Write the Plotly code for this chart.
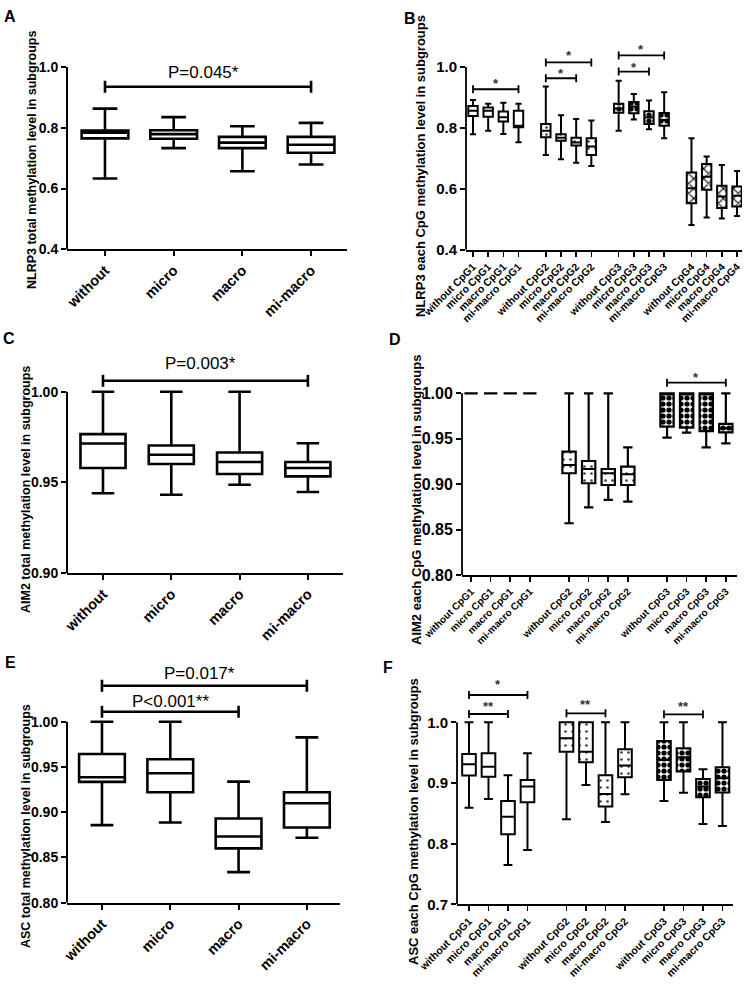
import plotly.graph_objects as go

W, H = 748, 985
FONT = "Liberation Sans, Arial, Helvetica, sans-serif"

# ---------------- data ----------------
groups = ["without", "micro", "macro", "mi-macro"]
total_labels = ["without", "micro", "macro", "mi-macro"]
cpg4_labels = [f"{g} CpG{k}" for k in range(1, 5) for g in groups]
cpg3_labels = [f"{g} CpG{k}" for k in range(1, 4) for g in groups]

# A: NLRP3 total
a_low = [0.633, 0.733, 0.657, 0.679]
a_q1 = [0.765, 0.764, 0.733, 0.718]
a_med = [0.784, 0.779, 0.751, 0.744]
a_q3 = [0.791, 0.792, 0.770, 0.770]
a_high = [0.863, 0.835, 0.805, 0.816]

# B: NLRP3 each CpG
b_low = [0.779, 0.791, 0.780, 0.753, 0.711, 0.697, 0.686, 0.675,
         0.791, 0.828, 0.796, 0.766, 0.481, 0.506, 0.503, 0.511]
b_q1 = [0.839, 0.837, 0.821, 0.802, 0.769, 0.758, 0.742, 0.711,
        0.850, 0.848, 0.813, 0.807, 0.553, 0.597, 0.537, 0.542]
b_med = [0.856, 0.856, 0.835, 0.807, 0.791, 0.768, 0.752, 0.739,
         0.864, 0.870, 0.834, 0.826, 0.602, 0.640, 0.575, 0.577]
b_q3 = [0.872, 0.867, 0.854, 0.856, 0.813, 0.779, 0.768, 0.766,
        0.879, 0.885, 0.855, 0.849, 0.654, 0.682, 0.610, 0.608]
b_high = [0.892, 0.879, 0.883, 0.879, 0.936, 0.842, 0.829, 0.824,
          0.955, 0.911, 0.890, 0.917, 0.766, 0.706, 0.678, 0.659]

# C: AIM2 total
c_low = [0.9440, 0.9432, 0.9487, 0.9447]
c_q1 = [0.9579, 0.9601, 0.9546, 0.9533]
c_med = [0.9714, 0.9652, 0.9612, 0.9579]
c_q3 = [0.9766, 0.9703, 0.9665, 0.9612]
c_high = [1.0, 1.0, 1.0, 0.9716]

# D: AIM2 each CpG
d_low = [1.0, 1.0, 1.0, 1.0, 0.8570, 0.8745, 0.8826, 0.8808,
         0.9512, 0.9567, 0.9406, 0.9450]
d_q1 = [1.0, 1.0, 1.0, 1.0, 0.9120, 0.9010, 0.8991, 0.8991,
        0.9633, 0.9622, 0.9585, 0.9571]
d_med = [1.0, 1.0, 1.0, 1.0, 0.9211, 0.9167, 0.9120, 0.9109,
         1.0, 1.0, 1.0, 0.9615]
d_q3 = [1.0, 1.0, 1.0, 1.0, 0.9358, 0.9255, 0.9167, 0.9193,
        1.0, 1.0, 1.0, 0.9663]
d_high = [1.0, 1.0, 1.0, 1.0, 1.0, 1.0, 1.0, 0.9406,
          1.0, 1.0, 1.0, 1.0]

# E: ASC total
e_low = [0.8857, 0.8886, 0.8338, 0.8717]
e_q1 = [0.9335, 0.9221, 0.8600, 0.8831]
e_med = [0.9386, 0.9430, 0.8732, 0.9099]
e_q3 = [0.9643, 0.9585, 0.8930, 0.9220]
e_high = [1.0, 1.0, 0.9338, 0.9827]

# F: ASC each CpG
f_low = [0.8593, 0.8736, 0.7648, 0.7896, 0.8401, 0.8967, 0.8357, 0.8813,
         0.8703, 0.8840, 0.8324, 0.8291]
f_q1 = [0.9121, 0.9104, 0.8154, 0.8681, 0.9516, 0.9340, 0.8610, 0.9093,
        0.9049, 0.9187, 0.8764, 0.8841]
f_med = [0.9308, 0.9269, 0.8445, 0.8940, 0.9736, 0.9516, 0.8819, 0.9286,
         0.9379, 0.9423, 0.8940, 0.9077]
f_q3 = [0.9478, 0.9489, 0.8703, 0.9050, 1.0, 1.0, 0.9126, 0.9555,
        0.9692, 0.9571, 0.9066, 0.9258]
f_high = [1.0, 1.0, 0.9126, 0.9489, 1.0, 1.0, 1.0, 1.0,
          1.0, 1.0, 0.9225, 1.0]

# significance brackets: (from index, to index, bracket y, label, label y)
a_sig = [(0, 3, 0.935, "P=0.045*", 0.983)]
b_sig = [(0, 3, 0.927, "*", 0.955), (4, 7, 1.015, "*", 1.047), (4, 6, 0.963, "*", 0.988),
         (8, 11, 1.038, "*", 1.067), (8, 10, 0.985, "*", 1.009)]
c_sig = [(0, 3, 1.006, "P=0.003*", 1.0156)]
d_sig = [(8, 11, 1.0117, "*", 1.021)]
e_sig = [(0, 3, 1.0397, "P=0.017*", 1.0533), (0, 2, 1.011, "P<0.001**", 1.022)]
f_sig = [(0, 3, 1.045, "*", 1.067), (0, 2, 1.0137, "**", 1.031),
         (4, 6, 1.0148, "**", 1.034), (8, 10, 1.0132, "**", 1.031)]

# ---------------- styling ----------------
DOTS = dict(shape=".", fgcolor="#444444", bgcolor="white", size=7, solidity=0.12)
CHECK = dict(shape=".", fgcolor="#000000", bgcolor="white", size=6, solidity=0.6)
CROSS = dict(shape="x", fgcolor="#000000", bgcolor="white", size=7, solidity=0.3)


def positions(n, gap):
    return [(i % 4) + (i // 4) * (3 + gap) for i in range(n)]


panels = [
    dict(letter="A", letter_xy=(10, 17), title="NLRP3 total methylation level in subgroups", title_xy=(32, 160),
         xpx=(67, 347), ypx=(67, 249.3), xr=(-0.553, 3.523), yr=(0.4, 1.0),
         yt=[0.4, 0.6, 0.8, 1.0], ytt=["0.4", "0.6", "0.8", "1.0"],
         labels=total_labels, pos=positions(4, 1), low=a_low, q1=a_q1, med=a_med, q3=a_q3, high=a_high,
         pats=[None], sig=a_sig, bw=0.68, ww=0.53, lw=2.6, xfs=14.5, yfs=14, sigfs=17, big=True),
    dict(letter="B", letter_xy=(410, 18), title="NLRP3 each CpG methylation level in subgroups", title_xy=(420, 166),
         xpx=(466, 742), ypx=(40, 249.8), xr=(-0.461, 17.73), yr=(0.4, 1.0886),
         yt=[0.4, 0.6, 0.8, 1.0], ytt=["0.4", "0.6", "0.8", "1.0"],
         labels=cpg4_labels, pos=positions(16, 1.8), low=b_low, q1=b_q1, med=b_med, q3=b_q3, high=b_high,
         pats=[None, DOTS, CHECK, CROSS], sig=b_sig, bw=0.62, ww=0.65, lw=2, xfs=10.5, yfs=15, sigfs=13, big=False),
    dict(letter="C", letter_xy=(9, 338), title="AIM2 total methylation level in subgroups", title_xy=(26, 490),
         xpx=(67, 343), ypx=(350, 573), xr=(-0.527, 3.514), yr=(0.9, 1.023),
         yt=[0.90, 0.95, 1.00], ytt=["0.90", "0.95", "1.00"],
         labels=total_labels, pos=positions(4, 1), low=c_low, q1=c_q1, med=c_med, q3=c_q3, high=c_high,
         pats=[None], sig=c_sig, bw=0.66, ww=0.5, lw=2.6, xfs=14.5, yfs=14, sigfs=17, big=True),
    dict(letter="D", letter_xy=(395, 340), title="AIM2 each CpG methylation level in subgroups", title_xy=(417, 500),
         xpx=(462, 737), ypx=(365, 575), xr=(-0.463, 13.57), yr=(0.8, 1.0312),
         yt=[0.80, 0.85, 0.90, 0.95, 1.00], ytt=["0.80", "0.85", "0.90", "0.95", "1.00"],
         labels=cpg3_labels, pos=positions(12, 2), low=d_low, q1=d_q1, med=d_med, q3=d_q3, high=d_high,
         pats=[None, DOTS, CHECK], sig=d_sig, bw=0.68, ww=0.7, lw=2.2, xfs=10, yfs=16, sigfs=13, big=False),
    dict(letter="E", letter_xy=(10, 662), title="ASC total methylation level in subgroups", title_xy=(26, 826),
         xpx=(67, 340), ypx=(665, 902.7), xr=(-0.512, 3.485), yr=(0.8, 1.0627),
         yt=[0.80, 0.85, 0.90, 0.95, 1.00], ytt=["0.80", "0.85", "0.90", "0.95", "1.00"],
         labels=total_labels, pos=positions(4, 1), low=e_low, q1=e_q1, med=e_med, q3=e_q3, high=e_high,
         pats=[None], sig=e_sig, bw=0.67, ww=0.5, lw=2.6, xfs=14.5, yfs=14, sigfs=17, big=True),
    dict(letter="F", letter_xy=(388, 667), title="ASC each CpG methylation level in subgroups", title_xy=(413, 822),
         xpx=(457, 733), ypx=(672, 904.3), xr=(-0.615, 13.54), yr=(0.7, 1.0829),
         yt=[0.7, 0.8, 0.9, 1.0], ytt=["0.7", "0.8", "0.9", "1.0"],
         labels=cpg3_labels, pos=positions(12, 2), low=f_low, q1=f_q1, med=f_med, q3=f_q3, high=f_high,
         pats=[None, DOTS, CHECK], sig=f_sig, bw=0.7, ww=0.65, lw=2, xfs=10.5, yfs=15, sigfs=13, big=False),
]

fig = go.Figure()
layout = dict(width=W, height=H, margin=dict(l=0, r=0, t=0, b=0, autoexpand=False), autosize=False,
              paper_bgcolor="white", plot_bgcolor="white", showlegend=False, barmode="overlay",
              template="none")
shapes = []
annotations = []

for k, p in enumerate(panels):
    sfx = "" if k == 0 else str(k + 1)
    xa, ya = "x" + sfx, "y" + sfx
    pos = p["pos"]
    n = len(pos)

    for g, pat in enumerate(p["pats"]):
        if pat is None:
            continue
        idx = [i for i in range(n) if i // 4 == g]
        fig.add_trace(go.Bar(
            x=[pos[i] for i in idx], base=[p["q1"][i] for i in idx],
            y=[p["q3"][i] - p["q1"][i] for i in idx], width=p["bw"],
            marker=dict(color="white", line=dict(width=0), pattern=pat),
            xaxis=xa, yaxis=ya, hoverinfo="skip", showlegend=False))

    fig.add_trace(go.Box(
        x=pos, q1=p["q1"], median=p["med"], q3=p["q3"],
        lowerfence=p["low"], upperfence=p["high"], orientation="v",
        width=p["bw"], whiskerwidth=p["ww"], fillcolor="rgba(0,0,0,0)",
        line=dict(color="black", width=p["lw"]), boxpoints=False,
        xaxis=xa, yaxis=ya, showlegend=False))

    x0, x1 = p["xpx"]
    yt_px, yb_px = p["ypx"]
    scale = (yb_px - yt_px) / (p["yr"][1] - p["yr"][0])
    tickfont = dict(family=FONT, size=p["xfs"], color="black", weight="bold")
    layout["xaxis" + sfx] = dict(
        domain=[x0 / W, x1 / W], range=list(p["xr"]), anchor=ya, automargin=False,
        tickmode="array", tickvals=pos, ticktext=p["labels"], tickangle=-45,
        ticks="outside", ticklen=5, tickwidth=2 if p["big"] else 1.6, tickcolor="black",
        showline=True, linecolor="black", linewidth=2 if p["big"] else 1.8,
        showgrid=False, zeroline=False, tickfont=tickfont)
    layout["yaxis" + sfx] = dict(
        domain=[1 - yb_px / H, 1 - yt_px / H], range=list(p["yr"]), anchor=xa, automargin=False,
        tickmode="array", tickvals=p["yt"], ticktext=p["ytt"],
        ticks="outside", ticklen=5, tickwidth=2, tickcolor="black",
        showline=False, showgrid=False, zeroline=False,
        tickfont=dict(family=FONT, size=p["yfs"], color="black", weight="bold"))

    # y axis line (ends at top tick)
    shapes.append(dict(type="line", xref=xa + " domain", yref=ya, x0=0, x1=0,
                       y0=p["yr"][0], y1=p["yt"][-1],
                       line=dict(color="black", width=2 if p["big"] else 1.8)))

    # significance brackets
    cap_px = 6 if p["big"] else 4
    blw = 2.6 if p["big"] else 1.8
    for (i0, i1, yb, lab, ly) in p["sig"]:
        xs, xe = pos[i0], pos[i1]
        shapes.append(dict(type="line", xref=xa, yref=ya, x0=xs, x1=xe, y0=yb, y1=yb,
                           line=dict(color="black", width=blw)))
        for xx in (xs, xe):
            shapes.append(dict(type="line", xref=xa, yref=ya, x0=xx, x1=xx,
                               y0=yb - cap_px / scale, y1=yb + cap_px / scale,
                               line=dict(color="black", width=blw)))
        if p["big"]:
            annotations.append(dict(xref=xa, yref=ya, x=(xs + xe) / 2 - (0.07 if i1 == 3 else 0), y=ly,
                                    text=lab, showarrow=False, xanchor="center", yanchor="middle",
                                    font=dict(family=FONT, size=p["sigfs"], color="black")))
        else:
            annotations.append(dict(xref=xa, yref=ya, x=(xs + xe) / 2, y=ly, yshift=-3,
                                    text=lab, showarrow=False, xanchor="center", yanchor="middle",
                                    font=dict(family=FONT, size=p["sigfs"], color="#333333", weight="bold")))

    # y axis title
    tx, ty = p["title_xy"]
    annotations.append(dict(xref="paper", yref="paper", x=tx / W, y=1 - ty / H, text=p["title"],
                            textangle=-90, showarrow=False, xanchor="center", yanchor="middle",
                            font=dict(family=FONT, size=12.5 if p["big"] else 13, color="black", weight="bold")))
    # panel letter
    lx, ly2 = p["letter_xy"]
    annotations.append(dict(xref="paper", yref="paper", x=lx / W, y=1 - ly2 / H, text=p["letter"],
                            showarrow=False, xanchor="center", yanchor="middle",
                            font=dict(family=FONT, size=16, color="black", weight="bold")))

layout["shapes"] = shapes
layout["annotations"] = annotations
fig.update_layout(**layout)
fig.write_html("out.html", config={"displayModeBar": False, "staticPlot": True},
               post_script="document.body.style.margin='0';document.body.style.padding='0';")
